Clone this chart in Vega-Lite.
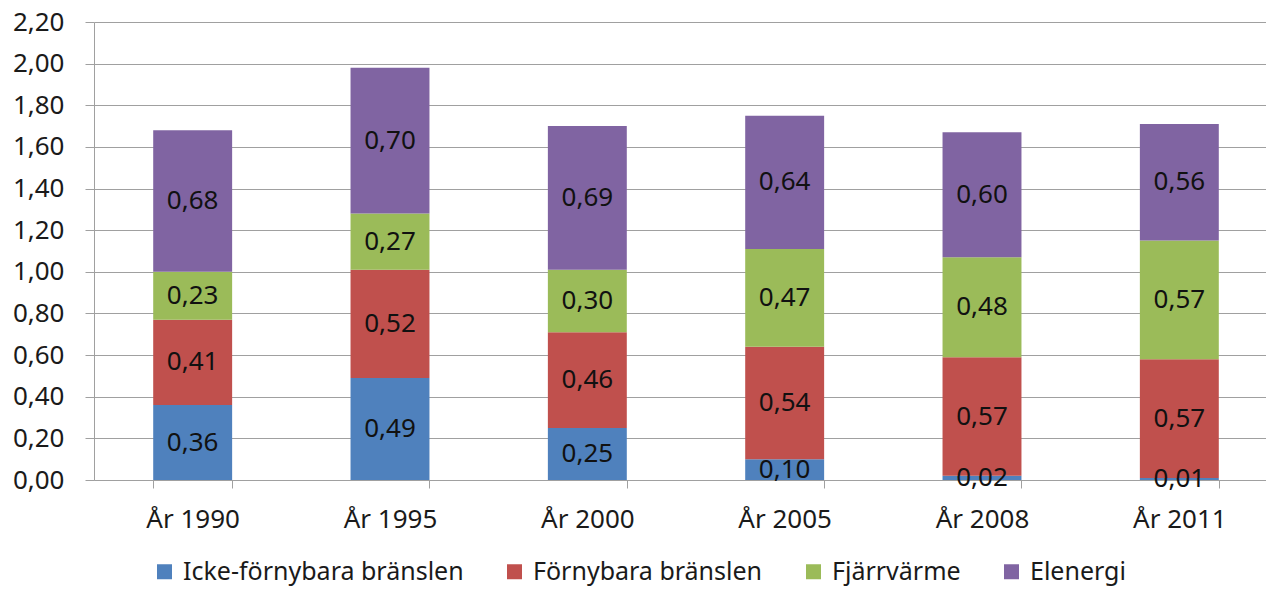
{
  "$schema": "https://vega.github.io/schema/vega-lite/v6.json",
  "width": 1184,
  "height": 458,
  "autosize": "none",
  "padding": {"left": 94, "top": 22, "right": 0, "bottom": 109},
  "background": "white",
  "config": {
    "font": "Noto Sans",
    "view": {"stroke": null},
    "locale": {"number": {"decimal": ",", "thousands": " ", "grouping": [3], "currency": ["", " kr"]}}
  },
  "data": {
    "values": [
      {"year": "År 1990", "series": "Icke-förnybara bränslen", "value": 0.36},
      {"year": "År 1990", "series": "Förnybara bränslen", "value": 0.41},
      {"year": "År 1990", "series": "Fjärrvärme", "value": 0.23},
      {"year": "År 1990", "series": "Elenergi", "value": 0.68},
      {"year": "År 1995", "series": "Icke-förnybara bränslen", "value": 0.49},
      {"year": "År 1995", "series": "Förnybara bränslen", "value": 0.52},
      {"year": "År 1995", "series": "Fjärrvärme", "value": 0.27},
      {"year": "År 1995", "series": "Elenergi", "value": 0.70},
      {"year": "År 2000", "series": "Icke-förnybara bränslen", "value": 0.25},
      {"year": "År 2000", "series": "Förnybara bränslen", "value": 0.46},
      {"year": "År 2000", "series": "Fjärrvärme", "value": 0.30},
      {"year": "År 2000", "series": "Elenergi", "value": 0.69},
      {"year": "År 2005", "series": "Icke-förnybara bränslen", "value": 0.10},
      {"year": "År 2005", "series": "Förnybara bränslen", "value": 0.54},
      {"year": "År 2005", "series": "Fjärrvärme", "value": 0.47},
      {"year": "År 2005", "series": "Elenergi", "value": 0.64},
      {"year": "År 2008", "series": "Icke-förnybara bränslen", "value": 0.02},
      {"year": "År 2008", "series": "Förnybara bränslen", "value": 0.57},
      {"year": "År 2008", "series": "Fjärrvärme", "value": 0.48},
      {"year": "År 2008", "series": "Elenergi", "value": 0.60},
      {"year": "År 2011", "series": "Icke-förnybara bränslen", "value": 0.01},
      {"year": "År 2011", "series": "Förnybara bränslen", "value": 0.57},
      {"year": "År 2011", "series": "Fjärrvärme", "value": 0.57},
      {"year": "År 2011", "series": "Elenergi", "value": 0.56}
    ]
  },
  "encoding": {
    "x": {
      "field": "year",
      "type": "nominal",
      "sort": null,
      "scale": {"paddingInner": 0.6, "paddingOuter": 0.3},
      "axis": {
        "title": null,
        "labelAngle": 0,
        "labelFontSize": 26,
        "labelColor": "#1a1a1a",
        "labelPadding": 18,
        "tickBand": "extent",
        "tickSize": 8,
        "tickColor": "#a0a0a0",
        "domainColor": "#a0a0a0",
        "grid": false
      }
    }
  },
  "layer": [
    {
      "mark": {"type": "bar"},
      "encoding": {
        "y": {
          "field": "value",
          "type": "quantitative",
          "stack": "zero",
          "scale": {"domain": [0, 2.2], "nice": false},
          "axis": {
            "title": null,
            "values": [0, 0.2, 0.4, 0.6, 0.8, 1.0, 1.2, 1.4, 1.6, 1.8, 2.0, 2.2],
            "format": ".2f",
            "labelFontSize": 26,
            "labelColor": "#1a1a1a",
            "labelPadding": 21,
            "tickSize": 9,
            "tickColor": "#a0a0a0",
            "domainColor": "#a0a0a0",
            "gridColor": "#a0a0a0",
            "grid": true
          }
        },
        "color": {
          "field": "series",
          "type": "nominal",
          "scale": {
            "domain": ["Icke-förnybara bränslen", "Förnybara bränslen", "Fjärrvärme", "Elenergi"],
            "range": ["#4F81BD", "#C0504D", "#9BBB59", "#8064A2"]
          },
          "legend": {
            "title": null,
            "orient": "none",
            "direction": "horizontal",
            "legendX": 58,
            "legendY": 537,
            "symbolType": "square",
            "symbolSize": 225,
            "symbolStrokeWidth": 0,
            "symbolOpacity": 1,
            "labelFontSize": 25,
            "labelLimit": 0,
            "labelColor": "#1a1a1a",
            "labelOffset": 6,
            "columnPadding": 38
          }
        },
        "order": {"field": "series", "sort": "descending"}
      }
    },
    {
      "transform": [
        {"stack": "value", "groupby": ["year"], "sort": [{"field": "series", "order": "descending"}], "as": ["v0", "v1"]},
        {"fold": ["v0", "v1"], "as": ["edge", "pos"]},
        {"aggregate": [{"op": "mean", "field": "pos", "as": "mid"}, {"op": "max", "field": "value", "as": "val"}], "groupby": ["year", "series"]}
      ],
      "mark": {"type": "text", "fontSize": 26, "color": "#111111", "baseline": "middle", "align": "center"},
      "encoding": {
        "y": {"field": "mid", "type": "quantitative", "scale": {"domain": [0, 2.2], "nice": false}},
        "text": {"field": "val", "type": "quantitative", "format": ".2f"}
      }
    }
  ]
}
